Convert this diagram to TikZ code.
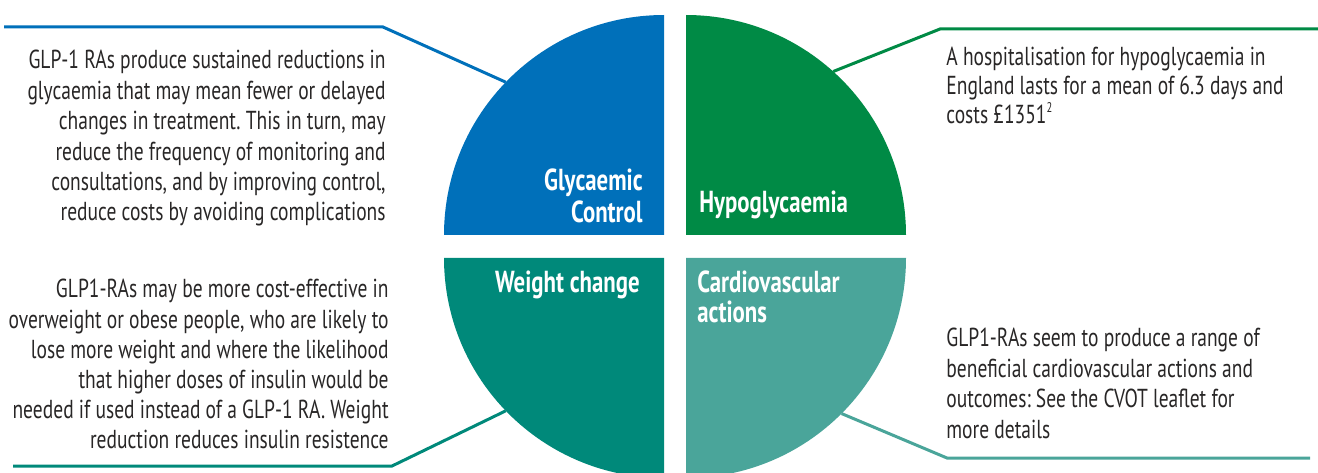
\documentclass[tikz,border=0pt]{standalone}
\usepackage{fontspec}
\setmainfont[FakeStretch=0.75]{PT Sans}
\usetikzlibrary{calc}

\definecolor{gcblue}{RGB}{0,112,186}
\definecolor{hypogreen}{RGB}{0,138,69}
\definecolor{wtteal}{RGB}{0,137,122}
\definecolor{cvteal}{RGB}{74,165,154}
\definecolor{bodygrey}{RGB}{40,38,38}

\tikzset{
  lead/.style={line width=1.5pt},
  body/.style={inner sep=0pt,text=bodygrey,font=\frenchspacing\fontsize{13}{15.2}\selectfont},
  head/.style={inner sep=0pt,text=white,font=\bfseries\fontsize{15.2}{16}\selectfont}
}

\begin{document}
\begin{tikzpicture}[x=0.5pt,y=0.5pt]
  \useasboundingbox (0,0) rectangle (1318,472);
  \clip (0,0) rectangle (1318,472);
  % centres of the four quarters, radius 220
  \coordinate (gc) at (664,237);
  \coordinate (hypo) at (686,237);
  \coordinate (wt) at (664,214);
  \coordinate (cv) at (686,214);
  \fill[gcblue] (gc) -- ++(-220,0) arc[start angle=180,end angle=90,radius=220] -- cycle;   % Glycaemic control
  \fill[hypogreen] (hypo) -- ++(0,220) arc[start angle=90,end angle=0,radius=220] -- cycle; % Hypoglycaemia
  \fill[wtteal] (wt) -- ++(-220,0) arc[start angle=180,end angle=270,radius=220] -- cycle;  % Weight change
  \fill[cvteal] (cv) -- ++(0,-220) arc[start angle=270,end angle=360,radius=220] -- cycle;  % Cardiovascular

  % quarter titles
  \node[head,anchor=north east,align=right] (gc-title) at (643,304) {Glycaemic\\Control};
  \node[head,anchor=north west] (hypo-title) at (699,282) {Hypoglycaemia};
  \node[head,anchor=north east] (wt-title) at (640,202) {Weight change};
  \node[head,anchor=north west,align=left,font=\bfseries\fontsize{15.2}{15}\selectfont] (cv-title) at (697,202) {Cardiovascular\\actions};

  % notes
  \node[body,anchor=north east,align=right] (gc-note) at (386,422) {GLP-1 RAs produce sustained reductions in\\
    glycaemia that may mean fewer or delayed\\
    changes in treatment. This in turn, may\\
    reduce the frequency of monitoring and\\
    consultations, and by improving control,\\
    reduce costs by avoiding complications};
  \node[body,anchor=north west,align=left,font=\fontsize{13}{14.5}\selectfont] (hypo-note) at (946,425) {A hospitalisation for hypoglycaemia in\\
    England lasts for a mean of 6.3 days and\\
    costs £1351\raisebox{0.9ex}{\fontsize{7}{7}\selectfont 2}};
  \node[body,anchor=north west,align=left] (cv-note) at (946,144) {GLP1-RAs seem to produce a range of\\
    beneficial cardiovascular actions and\\
    outcomes: See the CVOT leaflet for\\
    more details};
  \node[body,anchor=north east,align=right,font=\frenchspacing\fontsize{13}{15.1}\selectfont] (wt-note) at (389,193) {GLP1-RAs may be more cost-effective in\\
    overweight or obese people, who are likely to\\
    lose more weight and where the likelihood\\
    that higher doses of insulin would be\\
    needed if used instead of a GLP-1 RA. Weight\\
    reduction reduces insulin resistence};

  % leader lines from the rims
  \coordinate (gc-rim) at ($(gc)+(136:220)$);
  \coordinate (hypo-rim) at ($(hypo)+(48:220)$);
  \coordinate (wt-rim) at ($(wt)+(224:220)$);
  \coordinate (cv-rim) at ($(cv)+(315:220)$);
  \coordinate (gc-bend) at (383,445);
  \coordinate (gc-end) at (4,445);
  \coordinate (hypo-bend) at (940,443);
  \coordinate (hypo-end) at (1318,443);
  \coordinate (wt-bend) at (392,6);
  \coordinate (wt-end) at (13,6);
  \coordinate (cv-bend) at (947,14);
  \coordinate (cv-end) at (1310,14);
  \draw[lead,gcblue] (gc-rim) -- (gc-bend) -- (gc-end);
  \draw[lead,hypogreen] (hypo-rim) -- (hypo-bend) -- (hypo-end);
  \draw[lead,wtteal] (wt-rim) -- (wt-bend) -- (wt-end);
  \draw[lead,cvteal] (cv-rim) -- (cv-bend) -- (cv-end);
\end{tikzpicture}
\end{document}
